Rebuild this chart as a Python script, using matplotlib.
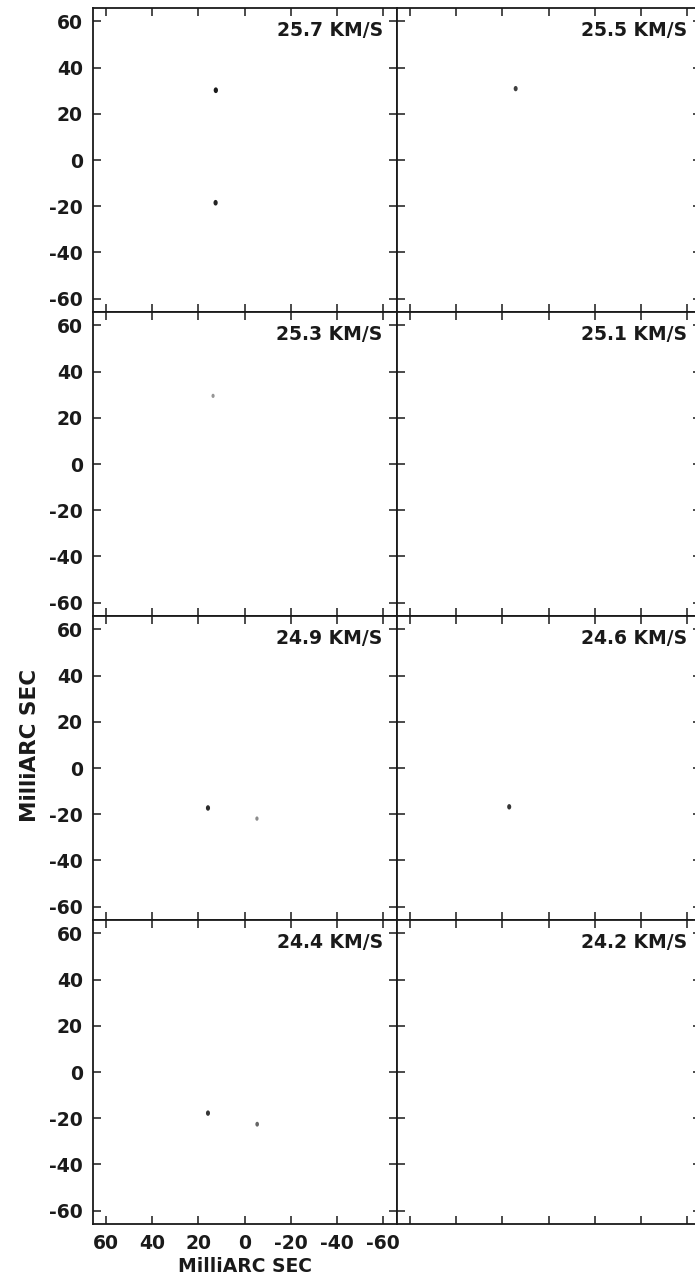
import matplotlib
matplotlib.use("Agg")
import matplotlib.pyplot as plt
from matplotlib.path import Path
import numpy as np

# Channel velocities (km/s), one panel per channel, read left-to-right, top-to-bottom
velocities = ["25.7", "25.5", "25.3", "25.1", "24.9", "24.6", "24.4", "24.2"]

# Maser spots: panel index, offsets (mas) and relative peak brightness
spot_panel = [0, 0, 1, 2, 4, 4, 5, 6, 6]
spot_x = [12.5, 12.6, 14.3, 13.7, 15.9, -5.3, 17.1, 15.9, -5.4]
spot_y = [30.2, -18.5, 30.9, 29.5, -17.3, -21.9, -16.8, -17.8, -22.6]
spot_peak = [1.0, 0.95, 0.8, 0.35, 0.9, 0.4, 0.85, 0.85, 0.6]

tick_values = [60, 40, 20, 0, -20, -40, -60]
axis_label = "MilliARC SEC"

plt.rcParams["font.family"] = ["DejaVu Sans"]
plt.rcParams["font.weight"] = "bold"

W, H = 695, 1283
fig = plt.figure(figsize=(W / 100, H / 100), dpi=100)
fig.patch.set_facecolor("white")

left0 = 92.7
panel = 304.0
top0 = 8.0
lim = 65.8
fs = 13.5
ink = "#1a1a1a"

# slightly tall elliptical marker for the compact spots
theta = np.linspace(0, 2 * np.pi, 40)
ell = Path(np.column_stack([0.75 * np.cos(theta), np.sin(theta)]), closed=True)

for i, vel in enumerate(velocities):
    row, col = divmod(i, 2)
    x0 = (left0 + col * panel) / W
    y0 = 1 - (top0 + (row + 1) * panel) / H
    ax = fig.add_axes([x0, y0, panel / W, panel / H])
    ax.set_xlim(lim, -lim)
    ax.set_ylim(-lim, lim)
    ax.set_xticks(tick_values)
    ax.set_yticks(tick_values)
    ax.tick_params(direction="in", length=5.5, width=1.1, top=True, right=True,
                   pad=7, labelsize=fs, colors=ink)
    for sp in ax.spines.values():
        sp.set_linewidth(1.3)
        sp.set_color(ink)
    if col == 0:
        ax.set_yticklabels([str(t) for t in tick_values], fontweight="bold")
    else:
        ax.set_yticklabels([])
    if row == 3 and col == 0:
        ax.set_xticklabels([str(t) for t in tick_values], fontweight="bold")
        ax.set_xlabel(axis_label, fontsize=fs, fontweight="bold", labelpad=3,
                      color=ink)
    else:
        ax.set_xticklabels([])

    ax.text(1 - 14 / panel, 1 - 28 / panel, f"{vel} KM/S", transform=ax.transAxes,
            ha="right", va="baseline", fontsize=fs, fontweight="bold", color=ink)

    for p, sx, sy, pk in zip(spot_panel, spot_x, spot_y, spot_peak):
        if p != i:
            continue
        shade = str(round(0.85 - 0.75 * pk, 2))
        ax.scatter([sx], [sy], s=5 + 12 * pk, marker=ell, color=shade,
                   edgecolors="none", zorder=3)

fig.text(30 / W, 1 - 745 / H, axis_label, rotation=90, ha="center", va="center",
         fontsize=15.5, fontweight="bold", color=ink)

fig.savefig("out.png", dpi=100, facecolor="white")
